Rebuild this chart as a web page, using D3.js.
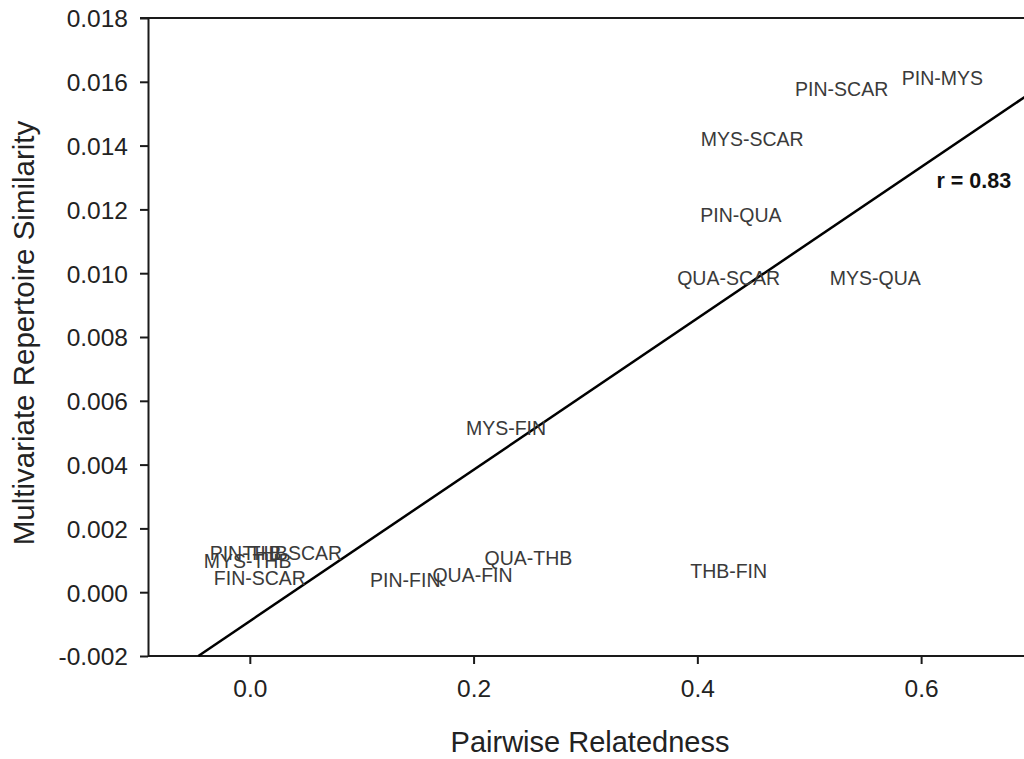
<!DOCTYPE html>
<html>
<head>
<meta charset="utf-8">
<script src="https://cdn.jsdelivr.net/npm/d3@7"></script>
<style>
  html, body { margin: 0; padding: 0; background: #fff; }
  svg { display: block; font-family: "Liberation Sans", Arial, sans-serif; }
</style>
</head>
<body>
<svg id="chart" width="1024" height="759"></svg>
<script>
// pair labels, placed at (relatedness, similarity)
var pairs = ['PIN-MYS','PIN-SCAR','MYS-SCAR','PIN-QUA','QUA-SCAR','MYS-QUA','MYS-FIN',
  'THB-FIN','QUA-THB','QUA-FIN','PIN-FIN','PIN-THB','THB-SCAR','MYS-THB','FIN-SCAR'];
var relatedness = [0.619, 0.529, 0.449, 0.439, 0.428, 0.559, 0.229,
  0.428, 0.249, 0.199, 0.139, -0.001, 0.038, -0.002, 0.009];
var similarity = [0.01613, 0.01577, 0.01421, 0.01183, 0.00985, 0.00985, 0.00514,
  0.000665, 0.00107, 0.000555, 0.000392, 0.00123, 0.00123, 0.00098, 0.00045];

// regression line end points
var fitX = [-0.046, 0.70];
var fitY = [-0.002, 0.0157];

var xTicks = [0.0, 0.2, 0.4, 0.6];
var yTicks = [-0.002, 0.000, 0.002, 0.004, 0.006, 0.008, 0.010, 0.012, 0.014, 0.016, 0.018];

var rText = 'r = 0.83';
var rPos = [0.6137, 0.0129];

var svg = d3.select('#chart'),
  mLeft = 148, mTop = 18, mBottom = 656, mRight = 1033;

var x = d3.scaleLinear().domain([-0.091, 0.70]).range([mLeft, mRight]);
var y = d3.scaleLinear().domain([-0.002, 0.018]).range([mBottom, mTop]);

// top frame line
svg.append('line')
  .attr('x1', mLeft - 8).attr('x2', 1024)
  .attr('y1', mTop).attr('y2', mTop)
  .attr('stroke', '#1a1a1a').attr('stroke-width', 2);

var gx = svg.append('g')
  .attr('transform', 'translate(0,' + mBottom + ')')
  .call(d3.axisBottom(x)
    .tickValues(xTicks)
    .tickFormat(d3.format('.1f'))
    .tickSize(8)
    .tickSizeOuter(0)
    .tickPadding(16));

var gy = svg.append('g')
  .attr('transform', 'translate(' + mLeft + ',0)')
  .call(d3.axisLeft(y)
    .tickValues(yTicks)
    .tickFormat(function(d) { return d3.format('.3f')(d).replace('−', '-'); })
    .tickSize(8)
    .tickSizeOuter(0)
    .tickPadding(12));

[gx, gy].forEach(function(g) {
  g.attr('font-size', null).attr('font-family', null);
  g.select('.domain').attr('stroke', '#1a1a1a').attr('stroke-width', 2);
  g.selectAll('.tick line').attr('stroke', '#1a1a1a').attr('stroke-width', 2);
  g.selectAll('.tick text')
    .attr('fill', '#222')
    .style('font-size', '24.5px');
});
gy.selectAll('.tick text').attr('dy', '0.36em');
gx.selectAll('.tick text').attr('dy', '0.71em');
gx.select('.domain').attr('d', 'M' + mLeft + ',0H1024');

// regression line
var fit = fitX.map(function(d, i) { return {x: d, y: fitY[i]}; });
svg.append('path')
  .datum(fit)
  .attr('d', d3.line().x(function(d) { return x(d.x); }).y(function(d) { return y(d.y); }))
  .attr('fill', 'none')
  .attr('stroke', '#000')
  .attr('stroke-width', 2.5);

// pair labels
svg.append('g').selectAll('text')
  .data(pairs)
  .enter().append('text')
  .attr('x', function(d, i) { return x(relatedness[i]); })
  .attr('y', function(d, i) { return y(similarity[i]); })
  .attr('dy', '0.36em')
  .attr('text-anchor', 'middle')
  .attr('fill', '#3a3a3a')
  .style('font-size', '19.5px')
  .text(function(d) { return d; });

svg.append('text')
  .attr('x', x(rPos[0]))
  .attr('y', y(rPos[1]))
  .attr('dy', '0.36em')
  .attr('fill', '#111')
  .style('font-size', '21.5px')
  .style('font-weight', 'bold')
  .text(rText);

// axis titles
svg.append('text')
  .attr('x', 590)
  .attr('y', 752)
  .attr('text-anchor', 'middle')
  .attr('fill', '#222')
  .style('font-size', '29px')
  .text('Pairwise Relatedness');

svg.append('text')
  .attr('transform', 'translate(34,333) rotate(-90)')
  .attr('text-anchor', 'middle')
  .attr('fill', '#222')
  .style('font-size', '29.5px')
  .text('Multivariate Repertoire Similarity');
</script>
</body>
</html>
